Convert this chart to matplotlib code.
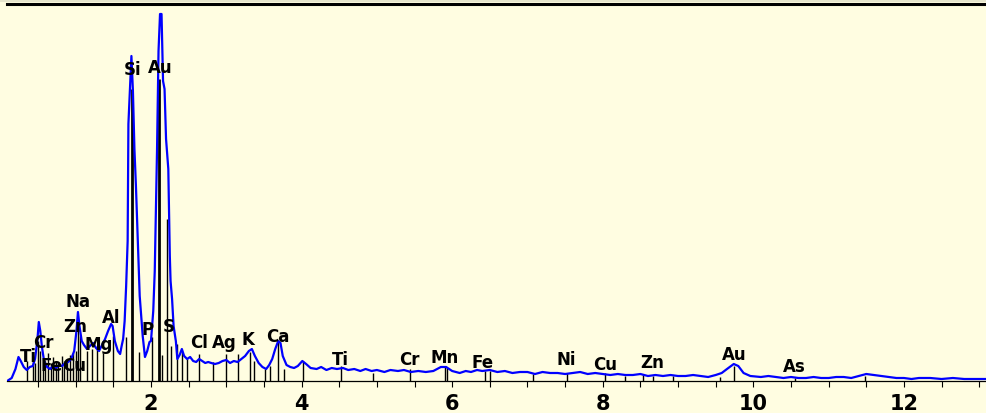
import matplotlib
matplotlib.use("Agg")
import matplotlib.pyplot as plt
import matplotlib.patches as mpatches

# spectrum trace (keV, counts)
energy = [0.09, 0.15, 0.20, 0.24, 0.27, 0.31, 0.35, 0.39, 0.43, 0.46, 0.49, 0.51, 0.53, 0.55,
          0.58, 0.62, 0.66, 0.70, 0.74, 0.78, 0.82, 0.86, 0.90, 0.94, 0.98, 1.01, 1.03, 1.05,
          1.08, 1.11, 1.15, 1.19, 1.23, 1.27, 1.31, 1.35, 1.39, 1.43, 1.47, 1.49, 1.52, 1.56,
          1.59, 1.61, 1.63, 1.65, 1.67, 1.69, 1.70, 1.72, 1.74, 1.76, 1.78, 1.80, 1.82, 1.85,
          1.89, 1.92, 1.95, 1.98, 2.00, 2.03, 2.05, 2.08, 2.10, 2.12, 2.14, 2.16, 2.18, 2.20,
          2.23, 2.25, 2.26, 2.28, 2.30, 2.33, 2.35, 2.38, 2.41, 2.44, 2.48, 2.52, 2.56, 2.60,
          2.64, 2.68, 2.72, 2.76, 2.80, 2.85, 2.90, 2.95, 3.00, 3.05, 3.10, 3.15, 3.20, 3.25,
          3.30, 3.34, 3.38, 3.43, 3.48, 3.53, 3.57, 3.61, 3.65, 3.69, 3.72, 3.75, 3.80, 3.85,
          3.90, 3.95, 4.01, 4.06, 4.12, 4.20, 4.26, 4.33, 4.40, 4.47, 4.55, 4.62, 4.70, 4.78,
          4.85, 4.93, 5.00, 5.10, 5.18, 5.28, 5.36, 5.45, 5.55, 5.65, 5.75, 5.85, 5.92, 6.00,
          6.10, 6.18, 6.25, 6.33, 6.40, 6.50, 6.60, 6.70, 6.80, 6.90, 7.00, 7.10, 7.20, 7.30,
          7.40, 7.50, 7.60, 7.70, 7.80, 7.90, 8.00, 8.10, 8.20, 8.30, 8.40, 8.50, 8.60, 8.70,
          8.80, 8.90, 9.00, 9.10, 9.20, 9.30, 9.40, 9.50, 9.58, 9.65, 9.74, 9.80, 9.87, 9.96,
          10.1, 10.2, 10.3, 10.4, 10.5, 10.6, 10.7, 10.8, 10.9, 11.0, 11.1, 11.2, 11.3, 11.4,
          11.5, 11.6, 11.7, 11.8, 11.9, 12.0, 12.1, 12.2, 12.35, 12.5, 12.65, 12.8, 12.95, 13.1]
counts = [0, 3, 12, 24, 20, 14, 11, 14, 15, 22, 40, 59, 50, 35,
          20, 14, 12, 15, 13, 16, 15, 18, 19, 22, 30, 50, 69, 55,
          40, 36, 32, 35, 38, 33, 30, 36, 42, 50, 57, 55, 40, 30,
          27, 35, 42, 60, 95, 140, 257, 290, 325, 290, 232, 195, 150, 85,
          45, 24, 30, 39, 40, 70, 110, 230, 330, 367, 367, 300, 292, 242,
          212, 125, 100, 82, 55, 40, 22, 26, 32, 25, 22, 24, 20, 19,
          22, 20, 18, 19, 18, 17, 18, 20, 21, 18, 20, 19, 22, 25,
          30, 32, 25, 18, 14, 12, 16, 22, 32, 40, 38, 25, 16, 14,
          13, 15, 20, 17, 13, 12, 14, 11, 13, 12, 13, 11, 12, 10,
          12, 10, 11, 9, 11, 10, 11, 9, 10, 9, 10, 14, 14, 10,
          8, 10, 9, 11, 10, 11, 9, 10, 8, 9, 9, 7, 9, 8,
          8, 7, 8, 9, 7, 8, 7, 6, 7, 6, 6, 7, 5, 6,
          5, 6, 5, 5, 6, 5, 4, 6, 8, 12, 17, 15, 8, 5,
          4, 5, 4, 3, 4, 3, 3, 4, 3, 3, 4, 4, 3, 5,
          7, 6, 5, 4, 3, 3, 2, 3, 3, 2, 3, 2, 2, 2]

# element marker lines (keV, height)
marker_e = [0.35, 0.43, 0.46, 0.50, 0.53, 0.57, 0.59, 0.63, 0.67, 0.70, 0.74, 0.76, 0.82, 0.84,
            0.88, 0.92, 0.96, 1.00, 1.03, 1.06, 1.15, 1.22, 1.28, 1.36, 1.50, 1.67, 1.75, 1.84,
            2.01, 2.11, 2.14, 2.21, 2.27, 2.34, 2.41, 2.48, 2.64, 2.82, 3.00, 3.16, 3.32, 3.37,
            3.51, 3.58, 3.69, 3.76, 4.02, 4.53, 4.95, 5.44, 5.90, 5.93, 6.43, 6.50, 7.07, 7.52,
            8.03, 8.29, 8.53, 8.67, 8.93, 9.56, 9.74, 10.55, 11.48]
marker_h = [20, 25, 18, 40, 30, 22, 20, 28, 18, 24, 20, 17, 25, 20,
            22, 26, 28, 30, 50, 45, 30, 32, 35, 28, 45, 44, 292, 29,
            44, 302, 26, 162, 35, 37, 29, 22, 27, 19, 27, 27, 29, 20,
            12, 15, 39, 12, 20, 15, 8, 12, 15, 13, 10, 10, 7, 8,
            8, 5, 7, 5, 5, 4, 15, 3, 5]

# element labels (text, keV, height)
label_text = ["Si", "Au", "Na", "Zn", "Al", "Mg", "P", "S", "Cl", "Ag", "K", "Ca",
              "Ti", "Cr", "Mn", "Fe", "Ni", "Cu", "Zn", "Au", "As",
              "Ti", "Cr", "Fe", "Cu"]
label_e = [1.75, 2.12, 1.03, 0.99, 1.47, 1.30, 1.96, 2.24, 2.64, 2.98, 3.29, 3.69,
           4.52, 5.43, 5.90, 6.41, 7.51, 8.03, 8.65, 9.74, 10.55,
           0.37, 0.57, 0.68, 0.98]
label_h = [312, 314, 80, 55, 64, 37, 52, 55, 39, 39, 42, 45,
           22, 22, 24, 19, 22, 17, 19, 27, 15,
           25, 39, 16, 16]

tick_pos = [2, 4, 6, 8, 10, 12]
tick_labels = ["2", "4", "6", "8", "10", "12"]

bg = "#fffde1"
fig = plt.figure(figsize=(9.86, 4.14), dpi=100, facecolor=bg)
fig.patches.append(mpatches.Rectangle((0, 1 - 3 / 414), 1, 3 / 414, transform=fig.transFigure,
                                      facecolor="#e6e5cc", edgecolor="none"))
ax = fig.add_axes([7 / 986, 32 / 414, 979 / 986, 377.5 / 414])
ax.set_facecolor(bg)
ax.set_xlim(0.0876, 13.09)
ax.set_ylim(0, 377.5)

thick = [2.0 if h > 250 else 1.0 for h in marker_h]
ax.vlines(marker_e, 0, marker_h, colors="black", linewidths=thick, zorder=2)
ax.plot(energy, counts, color="#0000ff", lw=1.6, zorder=3)

for t, e, h in zip(label_text, label_e, label_h):
    ax.text(e, h, t, ha="center", va="center", fontsize=12, fontweight="bold",
            color="black", zorder=4)

for s in ("left", "right"):
    ax.spines[s].set_visible(False)
ax.spines["top"].set_linewidth(2.2)
ax.spines["bottom"].set_linewidth(0.9)
ax.set_yticks([])
ax.set_xticks(tick_pos)
ax.set_xticklabels(tick_labels, fontsize=15, fontweight="bold",
                   family=["Liberation Sans Narrow", "DejaVu Sans"])
ax.set_xticks([x * 0.5 for x in range(1, 27)], minor=True)
ax.tick_params(axis="x", which="both", direction="out", length=4.5, width=0.8, pad=4)

fig.savefig("out.png", dpi=100, facecolor=bg)
